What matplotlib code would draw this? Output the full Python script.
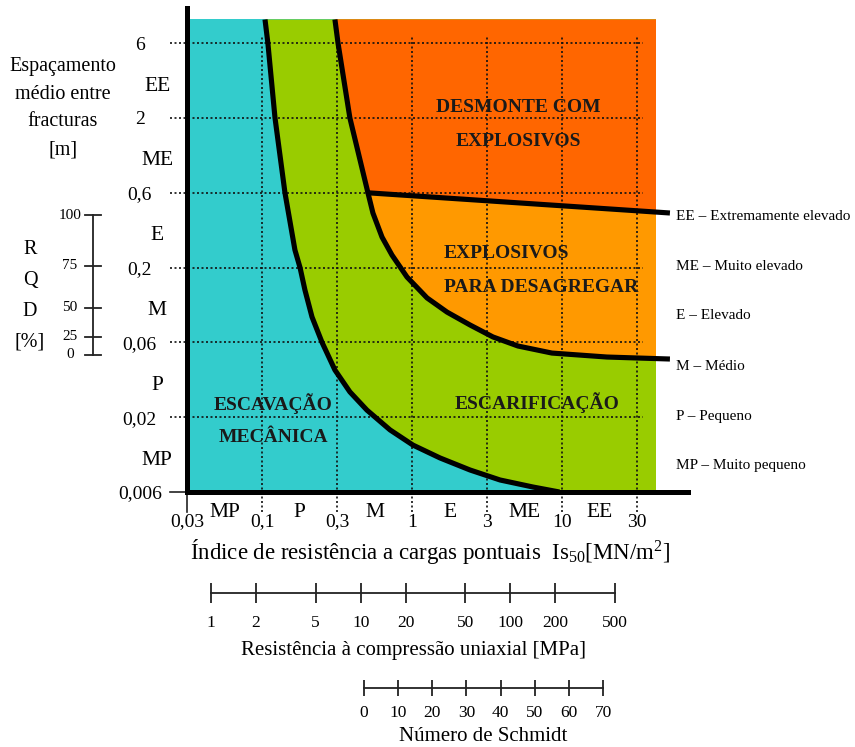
import numpy as np
import matplotlib
matplotlib.use("Agg")
import matplotlib.pyplot as plt
from matplotlib import patches, transforms
from matplotlib.ticker import NullLocator

plt.rcParams['font.family'] = ['Liberation Serif', 'DejaVu Serif']
plt.rcParams['mathtext.fontset'] = 'custom'
plt.rcParams['mathtext.rm'] = 'Liberation Serif'
plt.rcParams['mathtext.it'] = 'Liberation Serif:italic'
plt.rcParams['mathtext.bf'] = 'Liberation Serif:bold'

# ---------------- data ----------------
x_ticks = [0.03, 0.1, 0.3, 1, 3, 10, 30]               # Is50 [MN/m2]
x_tick_labels = ['0,03', '0,1', '0,3', '1', '3', '10', '30']
y_ticks = [0.006, 0.02, 0.06, 0.2, 0.6, 2, 6]          # spacing [m]
y_tick_labels = ['0,006', '0,02', '0,06', '0,2', '0,6', '2', '6']
classes = ['MP', 'P', 'M', 'E', 'ME', 'EE']
class_names = ['EE – Extremamente elevado', 'ME – Muito elevado', 'E – Elevado',
               'M – Médio', 'P – Pequeno', 'MP – Muito pequeno']

x_zone_max = 39.7     # extent of coloured chart
y_zone_max = 8.5

# boundary escavação / escarificação
c1_x = [0.1045, 0.109, 0.121, 0.140, 0.162, 0.1746, 0.1876, 0.208, 0.241, 0.291,
        0.369, 0.485, 0.703, 1.015, 1.507, 2.34, 3.70, 6.28, 9.6]
c1_y = [8.5, 6, 2, 0.6, 0.259, 0.2, 0.1393, 0.0904, 0.06, 0.040,
        0.029, 0.0222, 0.0163, 0.01276, 0.01038, 0.00855, 0.00728, 0.0065, 0.006]
# boundary escarificação / explosivos
c2_x = [0.291, 0.305, 0.369, 0.493, 0.534, 0.618, 0.725, 0.923, 1.246, 1.671,
        2.34, 3.30, 4.93, 8.51, 19.3, 48.6]
c2_y = [8.5, 6, 2, 0.6, 0.446, 0.313, 0.2405, 0.1718, 0.1228, 0.0977,
        0.0794, 0.0655, 0.0569, 0.0513, 0.0484, 0.047]
# boundary explosivos para desagregar / desmonte com explosivos
ee_x = [0.493, 48.6]
ee_y = [0.6, 0.446]

# RQD scale, expressed as equivalent spacing
rqd_vals = [0, 25, 50, 75, 100]
rqd_spacing = [0.0499, 0.0655, 0.1045, 0.205, 0.432]

ucs_ticks = [1, 2, 5, 10, 20, 50, 100, 200, 500]       # MPa
schmidt_ticks = [0, 10, 20, 30, 40, 50, 60, 70]

col_cyan = '#33CCCC'
col_green = '#99CC00'
col_red = '#FF6600'
col_orange = '#FF9900'


def make_scale(ticks):
    lt = np.log10(np.asarray(ticks, float))
    idx = np.arange(len(lt), dtype=float)
    s0 = 1.0 / (lt[1] - lt[0])
    s1 = 1.0 / (lt[-1] - lt[-2])

    def fwd(v):
        v = np.asarray(v, float)
        l = np.log10(np.clip(v, 1e-300, None))
        out = np.interp(l, lt, idx)
        out = np.where(l < lt[0], (l - lt[0]) * s0, out)
        out = np.where(l > lt[-1], idx[-1] + (l - lt[-1]) * s1, out)
        return out

    def inv(u):
        u = np.asarray(u, float)
        l = np.interp(u, idx, lt)
        l = np.where(u < 0, lt[0] + u / s0, l)
        l = np.where(u > idx[-1], lt[-1] + (u - idx[-1]) / s1, l)
        return 10 ** l
    return fwd, inv


W, H = 855, 747
fig = plt.figure(figsize=(W / 100, H / 100), dpi=100)


def fxy(px, py):
    return px / W, 1 - py / H


# ---------------- main axes ----------------
L, R, T, B = 187, 688, 8, 492
ax = fig.add_axes([L / W, 1 - B / H, (R - L) / W, (B - T) / H])
fx, ix = make_scale(x_ticks)
fy, iy = make_scale(y_ticks)
ax.set_xscale('function', functions=(fx, ix))
ax.set_yscale('function', functions=(fy, iy))
ax.set_xlim(x_ticks[0], float(ix((R - L) / 75.0)))
ax.set_ylim(y_ticks[0], float(iy((B - T) / 74.8)))
ax.patch.set_alpha(0)

for s in ['top', 'right']:
    ax.spines[s].set_visible(False)
for s in ['left', 'bottom']:
    ax.spines[s].set_linewidth(3.6)
    ax.spines[s].set_capstyle('projecting')
    ax.spines[s].set_zorder(5)

rect = patches.Rectangle((x_ticks[0], y_ticks[0]), x_zone_max - x_ticks[0],
                         y_zone_max - y_ticks[0], facecolor=col_cyan,
                         edgecolor='none', zorder=0.5)
ax.add_patch(rect)

green = ax.fill(c1_x + [x_zone_max * 2, x_zone_max * 2],
                c1_y + [y_ticks[0], y_zone_max], color=col_green, lw=0, zorder=0.6)[0]
orange = ax.fill(c2_x + [c2_x[-1]], c2_y + [y_zone_max], color=col_orange,
                 lw=0, zorder=0.7)[0]
top_mask = np.asarray(c2_y) >= ee_y[0]
red_x = list(np.asarray(c2_x)[top_mask]) + ee_x + [ee_x[-1]]
red_y = list(np.asarray(c2_y)[top_mask]) + ee_y + [y_zone_max]
red = ax.fill(red_x, red_y, color=col_red, lw=0, zorder=0.8)[0]
for p in (green, orange, red):
    p.set_clip_path(rect)

# dotted grid lines, running slightly outside the axes
xt = ax.get_xaxis_transform()
yt = ax.get_yaxis_transform()
ytop_frac = 6.08 / ((B - T) / 74.8)
xr_frac = 6.08 / ((R - L) / 75.0)
for v in x_ticks[1:]:
    ax.plot([v, v], [-0.042, ytop_frac], transform=xt, color='#111111', lw=1.2,
            ls=(0, (1.2, 1.5)), clip_on=False, zorder=2)
for v in y_ticks[1:]:
    ax.plot([-0.034, xr_frac], [v, v], transform=yt, color='#111111', lw=1.2,
            ls=(0, (1.2, 1.5)), clip_on=False, zorder=2)
ax.plot([x_ticks[0], x_ticks[0]], [-0.042, 0], transform=xt, color='#222222', lw=1.2,
        clip_on=False, zorder=2)
ax.plot([-0.034, 0], [y_ticks[0], y_ticks[0]], transform=yt, color='#222222', lw=1.2,
        clip_on=False, zorder=2)

# boundaries
for xs, ys in ((c1_x, c1_y), (c2_x, c2_y), (ee_x, ee_y)):
    ax.plot(xs, ys, color='black', lw=3.7, solid_joinstyle='round',
            solid_capstyle='butt', zorder=3, clip_on=False)

# ticks
ax.set_xticks(x_ticks, x_tick_labels)
ax.set_yticks(y_ticks, y_tick_labels)
ax.xaxis.set_minor_locator(NullLocator())
ax.yaxis.set_minor_locator(NullLocator())
ax.tick_params(axis='both', length=0, labelsize=14)
ax.tick_params(axis='x', pad=15.5)
ax.tick_params(axis='y', pad=34)
for lab in ax.get_yticklabels():
    lab.set_horizontalalignment('center')

# class letters between ticks
for i, c in enumerate(classes):
    xm = np.sqrt(x_ticks[i] * x_ticks[i + 1])
    ax.annotate(c, xy=(xm, 0), xycoords=xt, xytext=(0, -14.5),
                textcoords='offset points', ha='center', va='center', fontsize=15.5)
    ym = np.sqrt(y_ticks[i] * y_ticks[i + 1])
    ax.annotate(c, xy=(0, ym), xycoords=yt, xytext=(-21.5, -4),
                textcoords='offset points', ha='center', va='center', fontsize=15.5)

ax.set_xlabel('Índice de resistência a cargas pontuais  Is$_{50}$[MN/m$^{2}$]',
              fontsize=16.5)
ax.xaxis.set_label_coords((430 - L) / (R - L), (B - 552) / (B - T))
ax.xaxis.label.set_va('center')

# region names
bold = dict(fontsize=14, fontweight='bold', color='#1a1a1a', zorder=6)
fig.text(*fxy(518, 108), 'DESMONTE COM', ha='center', va='center', **bold)
fig.text(*fxy(518, 142), 'EXPLOSIVOS', ha='center', va='center', **bold)
fig.text(*fxy(444, 253), 'EXPLOSIVOS', ha='left', va='center', **bold)
fig.text(*fxy(444, 287), 'PARA DESAGREGAR', ha='left', va='center', **bold)
fig.text(*fxy(273, 404), 'ESCAVAÇÃO', ha='center', va='center', **bold)
fig.text(*fxy(273, 438), 'MECÂNICA', ha='center', va='center', **bold)
fig.text(*fxy(537, 403), 'ESCARIFICAÇÃO', ha='center', va='center', **bold)

# key of classes
for i, name in enumerate(class_names):
    fig.text(*fxy(676, 216 + 50 * i), name, ha='left', va='center', fontsize=11)

# y axis title
fig.text(*fxy(63, 57), 'Espaçamento\nmédio entre\nfracturas\n[m]', ha='center',
         va='top', fontsize=14.5, linespacing=1.62)
fig.text(*fxy(30, 240), 'R\nQ\nD\n[%]', ha='center', va='top', fontsize=14.5,
         linespacing=1.85)

# RQD scale
rt = transforms.blended_transform_factory(fig.transFigure, ax.transData)
ax.plot([93 / W, 93 / W], [rqd_spacing[0], rqd_spacing[-1]], transform=rt,
        color='#222222', lw=1.3, clip_on=False)
for v, s in zip(rqd_vals, rqd_spacing):
    ax.plot([85 / W, 101 / W], [s, s], transform=rt, color='#222222', lw=1.3,
            clip_on=False)
    ax.text(70 / W, s, str(v), transform=rt, ha='center', va='center', fontsize=11)

# UCS scale
au = fig.add_axes([211 / W, 1 - 593 / H, (615 - 211) / W, 0.0005])
au.set_xscale('log')
au.set_xlim(ucs_ticks[0], ucs_ticks[-1])
au.set_xticks(ucs_ticks, [str(v) for v in ucs_ticks])
au.xaxis.set_minor_locator(NullLocator())
au.set_yticks([])
au.patch.set_alpha(0)
for s in ['top', 'left', 'right']:
    au.spines[s].set_visible(False)
au.spines['bottom'].set_linewidth(1.3)
au.spines['bottom'].set_color('#222222')
au.tick_params(axis='x', direction='inout', length=15, width=1.3, color='#222222',
               pad=8.5, labelsize=12.5)
au.set_xlabel('Resistência à compressão uniaxial [MPa]', fontsize=15, labelpad=7)

# Schmidt scale
asch = fig.add_axes([364 / W, 1 - 688 / H, (603 - 364) / W, 0.0005])
asch.set_xlim(schmidt_ticks[0], schmidt_ticks[-1])
asch.set_xticks(schmidt_ticks, [str(v) for v in schmidt_ticks])
asch.xaxis.set_minor_locator(NullLocator())
asch.set_yticks([])
asch.patch.set_alpha(0)
for s in ['top', 'left', 'right']:
    asch.spines[s].set_visible(False)
asch.spines['bottom'].set_linewidth(1.3)
asch.spines['bottom'].set_color('#222222')
asch.tick_params(axis='x', direction='inout', length=11, width=1.3, color='#222222',
                 pad=6.5, labelsize=12.5)
asch.set_xlabel('Número de Schmidt', fontsize=15, labelpad=4.5)

fig.savefig('out.png', dpi=100)
